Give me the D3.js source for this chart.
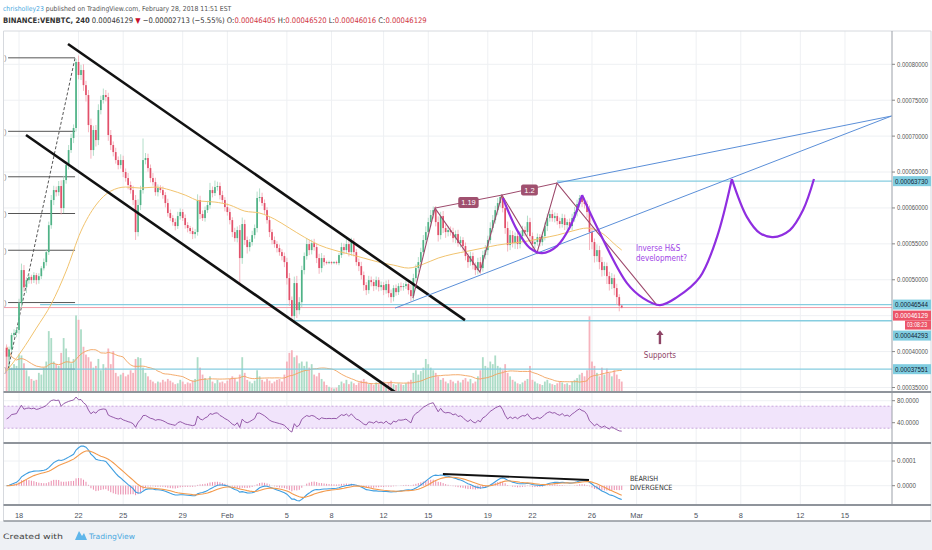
<!DOCTYPE html>
<html>
<head>
<meta charset="utf-8">
<script src="https://cdn.jsdelivr.net/npm/d3@7"></script>
<style>
  body { margin: 0; background: #fff; }
  svg { display: block; font-family: "Liberation Sans", Arial, sans-serif; }
  .narrow { font-family: "Liberation Sans Narrow", "Arial Narrow", "DejaVu Sans Condensed", sans-serif; }
</style>
</head>
<body>
<div id="chart-area"></div>
<script>
// VEN/BTC 4h - prices are kept in units of 0.00000001 BTC
const W = 932, H = 550
const PANE = { LEFT: 3.5, RIGHT: 892, TOP: 31, MAIN: 392, RSI: 443, MACD: 505, AXIS: 521 }
const UNIT = 1e-8

const firstOpen = 40500
const closes = [
  39300, 40300, 42300, 42600, 43000, 46750, 51350, 48950, 49950, 50400,
  49950, 50650, 49950, 50500, 51600, 52460, 53850, 57600, 61100, 62490,
  62200, 63050, 59980, 63880, 65970, 68060, 69730, 71130, 80320, 78510,
  79200, 77100, 75720, 71540, 68060, 70850, 69450, 73630, 75030, 75720,
  75440, 70150, 68760, 67780, 66670, 65970, 66670, 65000, 64160, 63190,
  62490, 61100, 56640, 60400, 62490, 66670, 66950, 65550, 64160, 63600,
  62200, 62770, 62490, 61790, 60680, 59290, 58590, 58030, 57480, 58870,
  59430, 58590, 57620, 57200, 56780, 56360, 56640, 61100, 59150, 58590,
  59700, 60400, 62490, 62070, 62910, 63050, 61790, 61100, 60120, 59430,
  58310, 56640, 55800, 56920, 53020, 57760, 55530, 54550, 55250, 56220,
  57200, 61380, 61520, 60680, 59700, 58310, 56640, 55530, 54970, 54410,
  53850, 53300, 52460, 50230, 47170, 44940, 49540, 45770, 46880, 51350,
  53300, 54970, 54130, 55100, 54550, 53020, 51630, 53020, 52460, 52320,
  52460, 52320, 52460, 52320, 53440, 54550, 54130, 54970, 53850, 55250,
  53850, 52460, 51900, 50650, 49260, 48560, 49950, 49680, 49120, 49950,
  48980, 49260, 48560, 49400, 48140, 47590, 48840, 48280, 49120, 48980,
  49120, 49400, 48560, 47720, 50230, 51630, 52460, 53850, 55530, 56640,
  58030, 59010, 59700, 58030, 56220, 58870, 57200, 56640, 56920, 56640,
  55800, 56360, 55100, 55530, 54690, 53300, 52460, 53300, 52040, 51350,
  52460, 51630, 53440, 54130, 55530, 57200, 58310, 59700, 60680, 61520,
  59980, 57200, 54830, 56220, 55100, 56080, 54970, 56080, 56920, 56640,
  58030, 56080, 54970, 55250, 55940, 55250, 56080, 57480, 58590, 59150,
  58590, 58870, 58170, 57760, 58590, 57620, 58030, 57480, 58590, 59430,
  60540, 61380, 60820, 60540, 59430, 56640, 55250, 53300, 54130, 52460,
  51350, 51900, 50510, 49400, 50230, 48840, 47590, 46405, 46129
]
// wick lengths above the body top / below the body bottom
const upWicks = [
  500, 400, 300, 500, 400, 600, 900, 700, 400, 500,
  300, 400, 300, 400, 300, 500, 400, 500, 700, 600,
  500, 700, 800, 600, 500, 700, 600, 500, 430, 900,
  700, 800, 600, 700, 900, 600, 700, 800, 600, 900,
  700, 600, 700, 500, 600, 500, 800, 600, 500, 700,
  500, 600, 700, 800, 600, 3000, 700, 600, 500, 700,
  600, 500, 400, 500, 400, 600, 500, 400, 500, 600,
  500, 400, 500, 400, 300, 500, 400, 800, 600, 500,
  500, 600, 1000, 500, 900, 600, 500, 600, 400, 500,
  500, 400, 600, 500, 700, 900, 600, 500, 400, 600,
  500, 900, 1200, 600, 500, 400, 500, 400, 500, 400,
  500, 400, 500, 600, 700, 500, 900, 1000, 700, 600,
  500, 800, 600, 500, 600, 500, 600, 700, 400, 200,
  200, 150, 150, 200, 300, 600, 500, 700, 600, 600,
  500, 400, 500, 600, 500, 400, 600, 500, 400, 500,
  400, 500, 400, 500, 600, 500, 400, 500, 400, 500,
  400, 500, 400, 700, 600, 500, 700, 600, 700, 800,
  600, 700, 500, 560, 800, 600, 700, 500, 600, 500,
  600, 500, 600, 500, 400, 500, 400, 600, 500, 400,
  600, 700, 600, 700, 600, 800, 700, 600, 700, 280,
  300, 700, 900, 700, 600, 500, 600, 700, 600, 500,
  900, 600, 500, 400, 500, 400, 600, 500, 600, 500,
  600, 500, 400, 500, 600, 500, 400, 500, 600, 700,
  600, 420, 420, 600, 500, 900, 700, 500, 800, 600,
  700, 600, 500, 600, 700, 500, 600, 400, 115
]
const downWicks = [
  1749, 500, 400, 300, 600, 500, 700, 600, 800, 500,
  500, 400, 600, 500, 400, 300, 500, 400, 500, 700,
  600, 500, 900, 700, 500, 600, 400, 700, 500, 600,
  700, 800, 900, 1000, 1200, 800, 900, 700, 600, 500,
  600, 800, 700, 600, 500, 600, 500, 700, 500, 600,
  500, 700, 1100, 600, 700, 500, 600, 500, 600, 500,
  500, 600, 400, 500, 600, 500, 400, 500, 600, 400,
  500, 400, 500, 600, 400, 700, 600, 500, 700, 400,
  500, 400, 500, 600, 400, 500, 600, 500, 600, 500,
  600, 700, 500, 600, 3760, 800, 700, 900, 600, 500,
  500, 600, 500, 400, 600, 500, 700, 600, 500, 600,
  500, 600, 700, 900, 800, 650, 700, 1100, 600, 700,
  600, 500, 700, 600, 500, 700, 800, 600, 500, 200,
  150, 200, 150, 200, 300, 400, 600, 500, 600, 500,
  600, 500, 700, 600, 800, 700, 500, 600, 700, 500,
  600, 500, 700, 500, 600, 800, 600, 500, 400, 500,
  500, 400, 600, 700, 600, 500, 600, 700, 500, 600,
  700, 600, 500, 600, 900, 600, 700, 800, 600, 500,
  600, 700, 500, 600, 700, 600, 800, 500, 600, 700,
  600, 800, 500, 600, 700, 500, 600, 500, 700, 600,
  600, 800, 900, 700, 600, 800, 700, 600, 500, 600,
  500, 700, 800, 600, 500, 600, 500, 600, 700, 500,
  500, 600, 500, 600, 500, 700, 600, 500, 600, 500,
  600, 500, 700, 600, 800, 2500, 1000, 900, 800, 1000,
  900, 800, 1100, 900, 700, 1000, 1100, 800, 113
]
const volumes = [
  52, 42, 28, 32, 30, 43, 42, 33, 25, 18,
  15, 13, 14, 22, 20, 28, 35, 70, 62, 35,
  32, 30, 45, 62, 50, 40, 33, 38, 88, 83,
  72, 52, 43, 40, 35, 28, 30, 38, 25, 32,
  28, 50, 32, 47, 22, 18, 20, 22, 18, 20,
  25, 22, 38, 40, 39, 28, 22, 18, 14, 12,
  10, 12, 11, 14, 12, 15, 13, 11, 9, 10,
  14, 12, 9, 11, 10, 13, 15, 40, 28, 20,
  16, 14, 18, 12, 10, 14, 11, 12, 10, 13,
  15, 18, 16, 12, 20, 40, 22, 14, 12, 10,
  13, 25, 18, 14, 12, 15, 13, 10, 12, 14,
  15, 12, 20, 35, 45, 48, 40, 42, 33, 35,
  30, 35, 28, 32, 20, 18, 22, 15, 12, 8,
  6, 5, 4, 5, 8, 12, 10, 14, 9, 12,
  10, 8, 11, 13, 15, 12, 9, 10, 8, 11,
  9, 10, 12, 8, 11, 13, 9, 8, 10, 9,
  8, 10, 12, 14, 22, 25, 20, 24, 28, 38,
  32, 28, 25, 22, 18, 14, 16, 12, 10, 14,
  12, 10, 13, 11, 14, 16, 12, 15, 10, 12,
  18, 25, 40, 30, 28, 35, 32, 42, 30, 28,
  25, 32, 22, 18, 14, 12, 10, 9, 11, 13,
  15, 30, 14, 12, 10, 9, 8, 12, 14, 10,
  9, 8, 10, 12, 11, 9, 10, 8, 12, 14,
  16, 20, 22, 18, 25, 87, 35, 30, 22, 18,
  28, 20, 27, 22, 18, 25, 20, 15, 12
]
// yellow moving average, read every 6 bars (plus the last bar)
const maBars = d3.range(0, 247, 6).concat([248])
const maValues = [
  37280, 40060, 43270, 46610, 51210, 56780, 60400, 62350, 62910, 62770,
  62910, 62490, 61790, 60960, 60820, 60400, 59560, 59290, 58450, 57200,
  55940, 54830, 54130, 53580, 53020, 52460, 52040, 51630, 52180, 53020,
  53580, 53990, 54410, 54830, 55110, 55390, 55800, 56220, 56780, 57200,
  56500, 54690, 54130
]

const tickBars = [5, 29, 47, 71, 89, 113, 131, 152, 170, 194, 212, 236, 254, 278, 296, 320, 338]
const tickLabels = ["18", "22", "25", "29", "Feb", "5", "8", "12", "15", "19", "22", "26", "Mar", "5", "8", "12", "15"]
const priceTicks = d3.range(35000, 80001, 5000)
const rsiTicks = [80, 40]
const macdTicks = [5000, 0]

// drawings: [bar index, price]
const fibFrom = [0.6, 37551], fibTo = [27.6, 80900]
const fibRatios = [0, 0.236, 0.382, 0.5, 0.618, 0.786, 1]
const levels = [
  { price: 63730, fromBar: 221.9 },
  { price: 46544, fromBar: 13.5 },
  { price: 44293, fromBar: 115 },
  { price: 37551, fromBar: 0.6 }
]
const channelUpper = [[24.75, 82830], [184.8, 44380]]
const channelLower = [[7.82, 70150], [156.6, 34350]]
const wedgeLower = [[156.6, 46053], [356.8, 72800]]
const wedgeUpper = [[221.9, 63466], [356.8, 72800]]
const zigzag = [[163.8, 47446], [172.7, 59983], [190.8, 51068], [199.7, 61794], [213.8, 53714], [221.9, 63466], [262.2, 46470]]
const ratioLinks = [{ from: 1, to: 3, label: "1.19" }, { from: 3, to: 5, label: "1.2" }]
const cupArcs = [
  [[200.1, 61375], [205.8, 56918], [211.0, 54410], [215.9, 53714], [221.9, 54689], [227.1, 57336], [232.0, 61794]],
  [[232.0, 61794], [238.0, 57336], [250.1, 49537], [256.6, 47446], [263.4, 46471], [270.3, 47585], [279.5, 50371], [286.4, 55943], [292.4, 64022]],
  [[292.4, 64022], [298.5, 58729], [303.7, 56500], [309.0, 55943], [315.8, 56918], [321.1, 59704], [325.5, 64022]]
]
const divergenceLine = [[175.9, 2370], [234.8, 1150]]
const changeAbs = -2713, changePct = -5.55
const countdown = "03:08:23"

// colours
const GREEN = "#4fb286", RED = "#e2506a"
const VOL_GREEN = "#acdcc7", VOL_RED = "#f6b3bd"
const LEVEL = "#86cde0", MAROON = "#9d4a6c", PURPLE = "#8f2ee0"

const bars = closes.map((c, i) => {
  const o = i === 0 ? firstOpen : closes[i - 1]
  return { i, o, c, h: Math.max(o, c) + upWicks[i], l: Math.min(o, c) - downWicks[i], v: volumes[i] }
})
const last = bars[bars.length - 1]

// indicators
const volMa = volumes.map((v, i) => d3.mean(volumes.slice(Math.max(0, i - 19), i + 1)))
function rsi(values, n) {
  const diffs = values.map((v, i) => v - (i ? values[i - 1] : firstOpen))
  const seed = d3.mean(diffs.slice(0, n), d => Math.abs(d)) / 2
  let g = seed, l = seed
  return diffs.map(d => {
    g = (g * (n - 1) + Math.max(d, 0)) / n
    l = (l * (n - 1) + Math.max(-d, 0)) / n
    return 100 - 100 / (1 + g / l)
  })
}
function ema(values, n) {
  const k = 2 / (n + 1)
  let e = values[0]
  return values.map(v => (e = v * k + e * (1 - k)))
}
const rsiValues = rsi(closes, 14)
const ema12 = ema(closes, 12), ema26 = ema(closes, 26)
const macd = closes.map((c, i) => ema12[i] - ema26[i])
const signal = ema(macd, 9)
const hist = macd.map((m, i) => m - signal[i])

// scales
const x = d3.scaleLinear().domain([0, 357]).range([6.6, 892.1])
const y = d3.scaleLinear().domain([35000, 80000]).range([387.5, 64.3])
const yVol = d3.scaleLinear().domain([0, 100]).range([PANE.MAIN, 305])
const yRsi = d3.scaleLinear().domain([40, 80]).range([422.7, 400.7])
const yMacd = d3.scaleLinear().domain([0, 5000]).range([485.7, 461])
const fmt = v => (v * UNIT).toFixed(8)

const svg = d3.select("#chart-area").append("svg").attr("width", W).attr("height", H)
svg.append("rect").attr("width", W).attr("height", H).attr("fill", "#fff")
svg.append("rect").attr("y", PANE.AXIS).attr("width", W).attr("height", H - PANE.AXIS).attr("fill", "#eef1f5")

const defs = svg.append("defs")
function clip(id, y0, y1) {
  defs.append("clipPath").attr("id", id).append("rect")
    .attr("x", PANE.LEFT).attr("y", y0).attr("width", PANE.RIGHT - PANE.LEFT).attr("height", y1 - y0)
}
clip("clip-main", PANE.TOP, PANE.MAIN)
clip("clip-rsi", PANE.MAIN, PANE.RSI)
clip("clip-macd", PANE.RSI, PANE.MACD)

// header
const head1 = svg.append("text").attr("class", "narrow").attr("x", 3).attr("y", 11).attr("font-size", 6.8)
head1.append("tspan").attr("fill", "#4aa8e0").text("chrisholley23")
head1.append("tspan").attr("fill", "#555").text(" published on TradingView.com, February 28, 2018 11:51 EST")

const head2 = svg.append("text").attr("class", "narrow").attr("x", 3).attr("y", 23).attr("font-size", 7.6).attr("fill", "#333")
head2.append("tspan").attr("font-weight", "bold").text("BINANCE:VENBTC, 240")
head2.append("tspan").text(" " + fmt(last.c) + " ")
head2.append("tspan").attr("fill", "#c8102e").text("▼")
head2.append("tspan").text(" −" + fmt(-changeAbs) + " (−" + (-changePct).toFixed(2) + "%) ")
;[["O:", last.o], [" H:", last.h], [" L:", last.l], [" C:", last.c]].forEach(([k, v]) => {
  head2.append("tspan").text(k)
  head2.append("tspan").attr("fill", "#d0343f").text(fmt(v))
})

// grids
const grid = svg.append("g").attr("stroke", "#eef0f3").attr("stroke-width", 1)
grid.selectAll("line.v").data(tickBars).join("line")
  .attr("x1", d => x(d)).attr("x2", d => x(d)).attr("y1", PANE.TOP).attr("y2", PANE.MACD)
grid.selectAll("line.p").data(priceTicks).join("line").attr("class", "p")
  .attr("x1", PANE.LEFT).attr("x2", PANE.RIGHT).attr("y1", d => y(d)).attr("y2", d => y(d))
  .attr("clip-path", "url(#clip-main)")
grid.selectAll("line.r").data(rsiTicks).join("line").attr("class", "r")
  .attr("x1", PANE.LEFT).attr("x2", PANE.RIGHT).attr("y1", d => yRsi(d)).attr("y2", d => yRsi(d))
grid.selectAll("line.m").data(macdTicks).join("line").attr("class", "m")
  .attr("x1", PANE.LEFT).attr("x2", PANE.RIGHT).attr("y1", d => yMacd(d)).attr("y2", d => yMacd(d))

// main pane
const main = svg.append("g").attr("clip-path", "url(#clip-main)")
const px = d => x(d[0]), py = d => y(d[1])
const line = d3.line().x(px).y(py)

main.selectAll("rect.vol").data(bars).join("rect").attr("class", "vol")
  .attr("x", d => x(d.i) - 0.9).attr("width", 1.8)
  .attr("y", d => yVol(d.v)).attr("height", d => PANE.MAIN - yVol(d.v))
  .attr("fill", d => d.c >= d.o ? VOL_GREEN : VOL_RED)
main.append("path").datum(volMa)
  .attr("d", d3.line().x((d, i) => x(i)).y(d => yVol(d)))
  .attr("fill", "none").attr("stroke", "#f2a25c").attr("stroke-width", 0.9)

// fib retracement (its price labels sit left of the pane, only the closing bracket shows)
const fibG = main.append("g")
fibRatios.forEach(r => {
  const p = fibTo[1] - r * (fibTo[1] - fibFrom[1])
  fibG.append("line").attr("x1", x(fibFrom[0])).attr("x2", x(fibTo[0])).attr("y1", y(p)).attr("y2", y(p))
    .attr("stroke", "#555").attr("stroke-width", 1)
  fibG.append("text").attr("x", 4.3).attr("y", y(p)).attr("dy", "0.35em")
    .attr("font-size", 7).attr("fill", "#888").text(")")
})
fibG.append("path").attr("d", line([fibFrom, fibTo]))
  .attr("stroke", "#555").attr("stroke-dasharray", "3,2").attr("fill", "none")

// horizontal levels and last price line
main.selectAll("line.lvl").data(levels).join("line").attr("class", "lvl")
  .attr("x1", d => x(d.fromBar)).attr("x2", PANE.RIGHT).attr("y1", d => y(d.price)).attr("y2", d => y(d.price))
  .attr("stroke", LEVEL).attr("stroke-width", 1.3)
main.append("line").attr("x1", PANE.LEFT).attr("x2", PANE.RIGHT).attr("y1", y(last.c)).attr("y2", y(last.c))
  .attr("stroke", "#f29aa8").attr("stroke-width", 1)

// candles
main.selectAll("line.wick").data(bars).join("line").attr("class", "wick")
  .attr("x1", d => x(d.i)).attr("x2", d => x(d.i))
  .attr("y1", d => y(d.h)).attr("y2", d => y(d.l))
  .attr("stroke", d => d.c >= d.o ? "#9fd6bd" : "#f1a2ae").attr("stroke-width", 0.8)
main.selectAll("rect.body").data(bars).join("rect").attr("class", "body")
  .attr("x", d => x(d.i) - 0.85).attr("width", 1.7)
  .attr("y", d => y(Math.max(d.o, d.c)))
  .attr("height", d => Math.max(0.8, Math.abs(y(d.o) - y(d.c))))
  .attr("fill", d => d.c >= d.o ? GREEN : RED)

// moving average
main.append("path").datum(maBars.map((b, k) => [b, maValues[k]]))
  .attr("d", d3.line().x(px).y(py).curve(d3.curveMonotoneX))
  .attr("fill", "none").attr("stroke", "#f1c36e").attr("stroke-width", 1)

// trend lines
;[channelUpper, channelLower].forEach(l => main.append("path").attr("d", line(l))
  .attr("stroke", "#111").attr("stroke-width", 2.6).attr("fill", "none"))
;[wedgeLower, wedgeUpper].forEach(l => main.append("path").attr("d", line(l))
  .attr("stroke", "#5b8fd8").attr("stroke-width", 1).attr("fill", "none"))
main.append("path").attr("d", line(zigzag)).attr("stroke", MAROON).attr("stroke-width", 1.1).attr("fill", "none")
ratioLinks.forEach(r => {
  const a = zigzag[r.from], b = zigzag[r.to]
  main.append("path").attr("d", line([a, b])).attr("stroke", MAROON).attr("stroke-width", 1).attr("fill", "none")
  const cx = (px(a) + px(b)) / 2, cy = (py(a) + py(b)) / 2 + 1
  const w = r.label.length * 3.6 + 6
  main.append("rect").attr("x", cx - w / 2).attr("y", cy - 5.5).attr("width", w).attr("height", 11)
    .attr("rx", 2).attr("fill", "#a0506f")
  main.append("text").attr("x", cx).attr("y", cy).attr("dy", "0.35em").attr("text-anchor", "middle")
    .attr("font-size", 7.5).attr("fill", "#fff").text(r.label)
})
cupArcs.forEach(a => main.append("path").attr("d", d3.line().x(px).y(py).curve(d3.curveCatmullRom)(a))
  .attr("stroke", PURPLE).attr("stroke-width", 2.2).attr("fill", "none"))

const note = main.append("text").attr("class", "narrow").attr("font-size", 8).attr("fill", "#a044e6")
note.append("tspan").attr("x", x(253.7)).attr("y", y(53990)).text("Inverse H&S")
note.append("tspan").attr("x", x(253.7)).attr("dy", 10).text("development?")

const ax = x(263.4)
main.append("line").attr("x1", ax).attr("x2", ax).attr("y1", y(41038)).attr("y2", y(42500))
  .attr("stroke", "#8e4466").attr("stroke-width", 2.4)
main.append("path").attr("d", `M${ax - 3.6},${y(42300)} L${ax},${y(42988)} L${ax + 3.6},${y(42300)} Z`)
  .attr("fill", "#8e4466")
main.append("text").attr("class", "narrow").attr("x", ax).attr("y", y(39088)).attr("text-anchor", "middle")
  .attr("font-size", 8).attr("fill", "#8e4466").text("Supports")

// RSI pane
const rsiG = svg.append("g").attr("clip-path", "url(#clip-rsi)")
rsiG.append("rect").attr("x", PANE.LEFT).attr("width", PANE.RIGHT - PANE.LEFT)
  .attr("y", yRsi(70)).attr("height", yRsi(30) - yRsi(70)).attr("fill", "#f1e4fb")
;[70, 30].forEach(v => rsiG.append("line").attr("x1", PANE.LEFT).attr("x2", PANE.RIGHT)
  .attr("y1", yRsi(v)).attr("y2", yRsi(v)).attr("stroke", "#c9a6dd").attr("stroke-dasharray", "2,2"))
rsiG.append("path").datum(rsiValues)
  .attr("d", d3.line().x((d, i) => x(i)).y(d => yRsi(d)))
  .attr("fill", "none").attr("stroke", "#8a4a9f").attr("stroke-width", 0.9)

// MACD pane
const macdG = svg.append("g").attr("clip-path", "url(#clip-macd)")
macdG.selectAll("line.h").data(hist).join("line")
  .attr("x1", (d, i) => x(i)).attr("x2", (d, i) => x(i))
  .attr("y1", yMacd(0)).attr("y2", d => yMacd(d))
  .attr("stroke", "#e87fa4").attr("stroke-width", 0.9)
macdG.append("path").datum(macd).attr("d", d3.line().x((d, i) => x(i)).y(d => yMacd(d)))
  .attr("fill", "none").attr("stroke", "#3f9ee0").attr("stroke-width", 1.1)
macdG.append("path").datum(signal).attr("d", d3.line().x((d, i) => x(i)).y(d => yMacd(d)))
  .attr("fill", "none").attr("stroke", "#f39a4c").attr("stroke-width", 1.1)
macdG.append("path").attr("d", d3.line().x(d => x(d[0])).y(d => yMacd(d[1]))(divergenceLine))
  .attr("stroke", "#111").attr("stroke-width", 1.8)
const bear = macdG.append("text").attr("class", "narrow").attr("font-size", 7.2).attr("fill", "#333")
bear.append("tspan").attr("x", x(251.3)).attr("y", yMacd(1050)).text("BEARISH")
bear.append("tspan").attr("x", x(251.3)).attr("dy", 9).text("DIVERGENCE")

// frame and separators
svg.append("line").attr("x1", PANE.LEFT).attr("x2", W - 1).attr("y1", PANE.TOP).attr("y2", PANE.TOP).attr("stroke", "#d6d9de")
svg.append("line").attr("x1", PANE.LEFT).attr("x2", PANE.LEFT).attr("y1", PANE.TOP).attr("y2", PANE.AXIS).attr("stroke", "#d6d9de")
svg.append("line").attr("x1", W - 1).attr("x2", W - 1).attr("y1", PANE.TOP).attr("y2", PANE.AXIS).attr("stroke", "#d6d9de")
svg.append("line").attr("x1", PANE.RIGHT).attr("x2", PANE.RIGHT).attr("y1", PANE.TOP).attr("y2", PANE.MACD).attr("stroke", "#9ba0a8")
;[PANE.MAIN, PANE.RSI, PANE.MACD, PANE.AXIS].forEach(v => svg.append("line")
  .attr("x1", PANE.LEFT).attr("x2", W - 1).attr("y1", v).attr("y2", v)
  .attr("stroke", "#8f949b").attr("stroke-width", v === PANE.AXIS ? 1.5 : 2))

// price tags on the axis, pushed down when they overlap
const tags = levels.map(l => ({ price: l.price, last: false })).concat([{ price: last.c, last: true }])
  .sort((a, b) => b.price - a.price)
let bottom = -Infinity
const tagBoxes = []
tags.forEach(t => {
  t.top = Math.max(y(t.price) - 5, bottom + 1)
  bottom = t.top + 10 + (t.last ? 9 : 0)
  tagBoxes.push([t.top, bottom])
})

// right axis labels
const axisG = svg.append("g").attr("font-size", 6.8).attr("fill", "#555")
function axisLabels(ticks, scale, f, boxes, len) {
  ticks.forEach(t => {
    const ty = scale(t)
    if (boxes && boxes.some(([a, b]) => ty + 2.5 > a && ty - 2.5 < b)) return
    axisG.append("line").attr("x1", PANE.RIGHT).attr("x2", PANE.RIGHT + 3).attr("y1", ty).attr("y2", ty).attr("stroke", "#888")
    axisG.append("text").attr("x", PANE.RIGHT + 5).attr("y", ty).attr("dy", "0.35em")
      .attr("textLength", len).attr("lengthAdjust", "spacingAndGlyphs").text(f(t))
  })
}
axisLabels(priceTicks, y, fmt, tagBoxes, 31)
axisLabels(rsiTicks, yRsi, t => t.toFixed(4), null, 22)
axisLabels(macdTicks, yMacd, t => (Math.round(t / 10000) / 1e4).toFixed(4), null, 19)

tags.forEach(t => {
  axisG.append("rect").attr("x", PANE.RIGHT + 1).attr("y", t.top).attr("width", W - PANE.RIGHT - 2).attr("height", 10)
    .attr("fill", t.last ? "#ec5468" : "#80cde0")
  axisG.append("text").attr("x", PANE.RIGHT + 3).attr("y", t.top + 5).attr("dy", "0.35em")
    .attr("textLength", 33).attr("lengthAdjust", "spacingAndGlyphs")
    .attr("fill", t.last ? "#fff" : "#123").text(fmt(t.price))
  if (t.last) {
    axisG.append("rect").attr("x", 905).attr("y", t.top + 10).attr("width", W - 906).attr("height", 9).attr("fill", "#ec5468")
    axisG.append("text").attr("x", 907).attr("y", t.top + 14.5).attr("dy", "0.35em").attr("font-size", 6.3)
      .attr("textLength", 20).attr("lengthAdjust", "spacingAndGlyphs")
      .attr("fill", "#fff").text(countdown)
  }
})

// time axis
svg.append("g").selectAll("text").data(tickBars).join("text")
  .attr("x", d => x(d)).attr("y", 518).attr("text-anchor", "middle")
  .attr("font-size", 7.4).attr("fill", "#4c525e").text((d, i) => tickLabels[i])

// footer
svg.append("text").attr("class", "narrow").attr("x", 3).attr("y", 539).attr("font-size", 7.4).attr("fill", "#444")
  .attr("textLength", 60).attr("lengthAdjust", "spacingAndGlyphs").text("Created with")
svg.append("path").attr("d", "M75,540 L79,531 L82,536 L84,533 L87,540 Z").attr("fill", "#5fb6ea")
svg.append("text").attr("class", "narrow").attr("x", 89).attr("y", 539).attr("font-size", 7.4).attr("fill", "#4aa8e0")
  .attr("textLength", 46).attr("lengthAdjust", "spacingAndGlyphs").text("TradingView")
</script>
</body>
</html>
